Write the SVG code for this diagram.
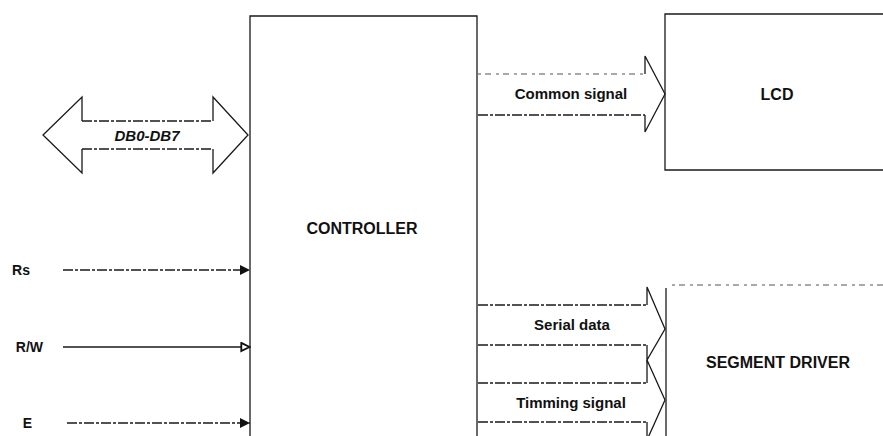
<svg xmlns="http://www.w3.org/2000/svg" width="883" height="436" viewBox="0 0 883 436">
  <style>
    .ln { fill: none; stroke: #1a1a1a; stroke-width: 1.3; stroke-linejoin: miter; }
    .dash { stroke-dasharray: 10 2 3 2; }
    .dot { stroke-dasharray: 3 4 6 5; stroke: #555; stroke-width: 1.1; }
    .lbl { font-family: "Liberation Sans", Arial, sans-serif; font-weight: bold; font-size: 16px; fill: #111; }
    .sig { font-family: "Liberation Sans", Arial, sans-serif; font-weight: bold; font-size: 14px; fill: #111; }
    .bus { font-family: "Liberation Sans", Arial, sans-serif; font-weight: bold; font-size: 15px; fill: #111; }
  </style>
  <defs>
    <marker id="tri-fill" viewBox="0 0 10 10" refX="10" refY="5" markerWidth="10" markerHeight="10" markerUnits="userSpaceOnUse" orient="auto">
      <path d="M0,0 L10,5 L0,10 Z" fill="#111"/>
    </marker>
    <marker id="tri-open" viewBox="0 0 12 12" refX="11" refY="6" markerWidth="11" markerHeight="11" markerUnits="userSpaceOnUse" orient="auto">
      <path d="M1.5,1.5 L10.5,6 L1.5,10.5 Z" fill="#fff" stroke="#111" stroke-width="2"/>
    </marker>
  </defs>

  <rect width="883" height="436" fill="#fff"/>

  <!-- Controller block -->
  <g id="controller">
    <path class="ln" d="M250,436 L250,16 L477,16 L477,436"/>
    <text class="lbl" x="362" y="234" text-anchor="middle" font-size="15">CONTROLLER</text>
  </g>

  <!-- LCD block -->
  <g id="lcd">
    <path class="ln" d="M883,14 L665,14 L665,170 L883,170"/>
    <text class="lbl" x="777" y="100" text-anchor="middle">LCD</text>
  </g>

  <!-- Segment driver block -->
  <g id="segment-driver">
    <path class="ln dot" d="M672,285 L883,285"/>
    <path class="ln" d="M666,288 L666,436"/>
    <text class="lbl" x="778" y="368" text-anchor="middle" font-size="16.5">SEGMENT DRIVER</text>
  </g>

  <!-- Input pin labels -->
  <g id="pin-rs"><text class="sig" x="30" y="275" text-anchor="end" transform="translate(0,0)">Rs</text></g>
  <g id="pin-rw"><text class="sig" x="43" y="352" text-anchor="end">R/W</text></g>
  <g id="pin-e"><text class="sig" x="32" y="428" text-anchor="end">E</text></g>

  <g id="connectors">
    <!-- Data bus, both directions -->
    <g id="bus-db">
      <path class="ln" d="M82,121 L82,97 L43,135 L82,173 L82,149"/>
      <path class="ln" d="M213,121 L213,97 L248,135 L213,173 L213,149"/>
      <path class="ln dash" d="M82,121 L213,121 M82,149 L213,149"/>
      <text class="bus" x="147" y="141" text-anchor="middle" font-style="italic" font-size="16">DB0-DB7</text>
    </g>

    <!-- Common signal to LCD -->
    <g id="bus-common">
      <path class="ln dot" d="M478,74 L645,74"/>
      <path class="ln dash" d="M478,115 L645,115"/>
      <path class="ln" d="M645,74 L645,56 L665,94 L645,132 L645,115"/>
      <text class="bus" x="571" y="99" text-anchor="middle" font-size="15.5">Common signal</text>
    </g>

    <!-- Serial data and timing signal to segment driver -->
    <g id="bus-serial">
      <path class="ln dash" d="M478,305 L647,305 M478,345 L647,345"/>
      <path class="ln" d="M647,305 L647,287 L665,329 L647,360 L647,345"/>
      <text class="bus" x="572" y="330" text-anchor="middle">Serial data</text>
    </g>
    <g id="bus-timing">
      <path class="ln dash" d="M478,383 L647,383 M478,422 L647,422"/>
      <path class="ln" d="M647,383 L647,360 L665,400 L647,440 L647,422"/>
      <text class="bus" x="571" y="408" text-anchor="middle">Timming signal</text>
    </g>

    <!-- Control inputs -->
    <path class="ln dash" d="M63,270 L250,270" marker-end="url(#tri-fill)"/>
    <path class="ln" d="M63,347 L250,347" marker-end="url(#tri-open)"/>
    <path class="ln dash" d="M67,423 L250,423" marker-end="url(#tri-fill)"/>
  </g>
</svg>
